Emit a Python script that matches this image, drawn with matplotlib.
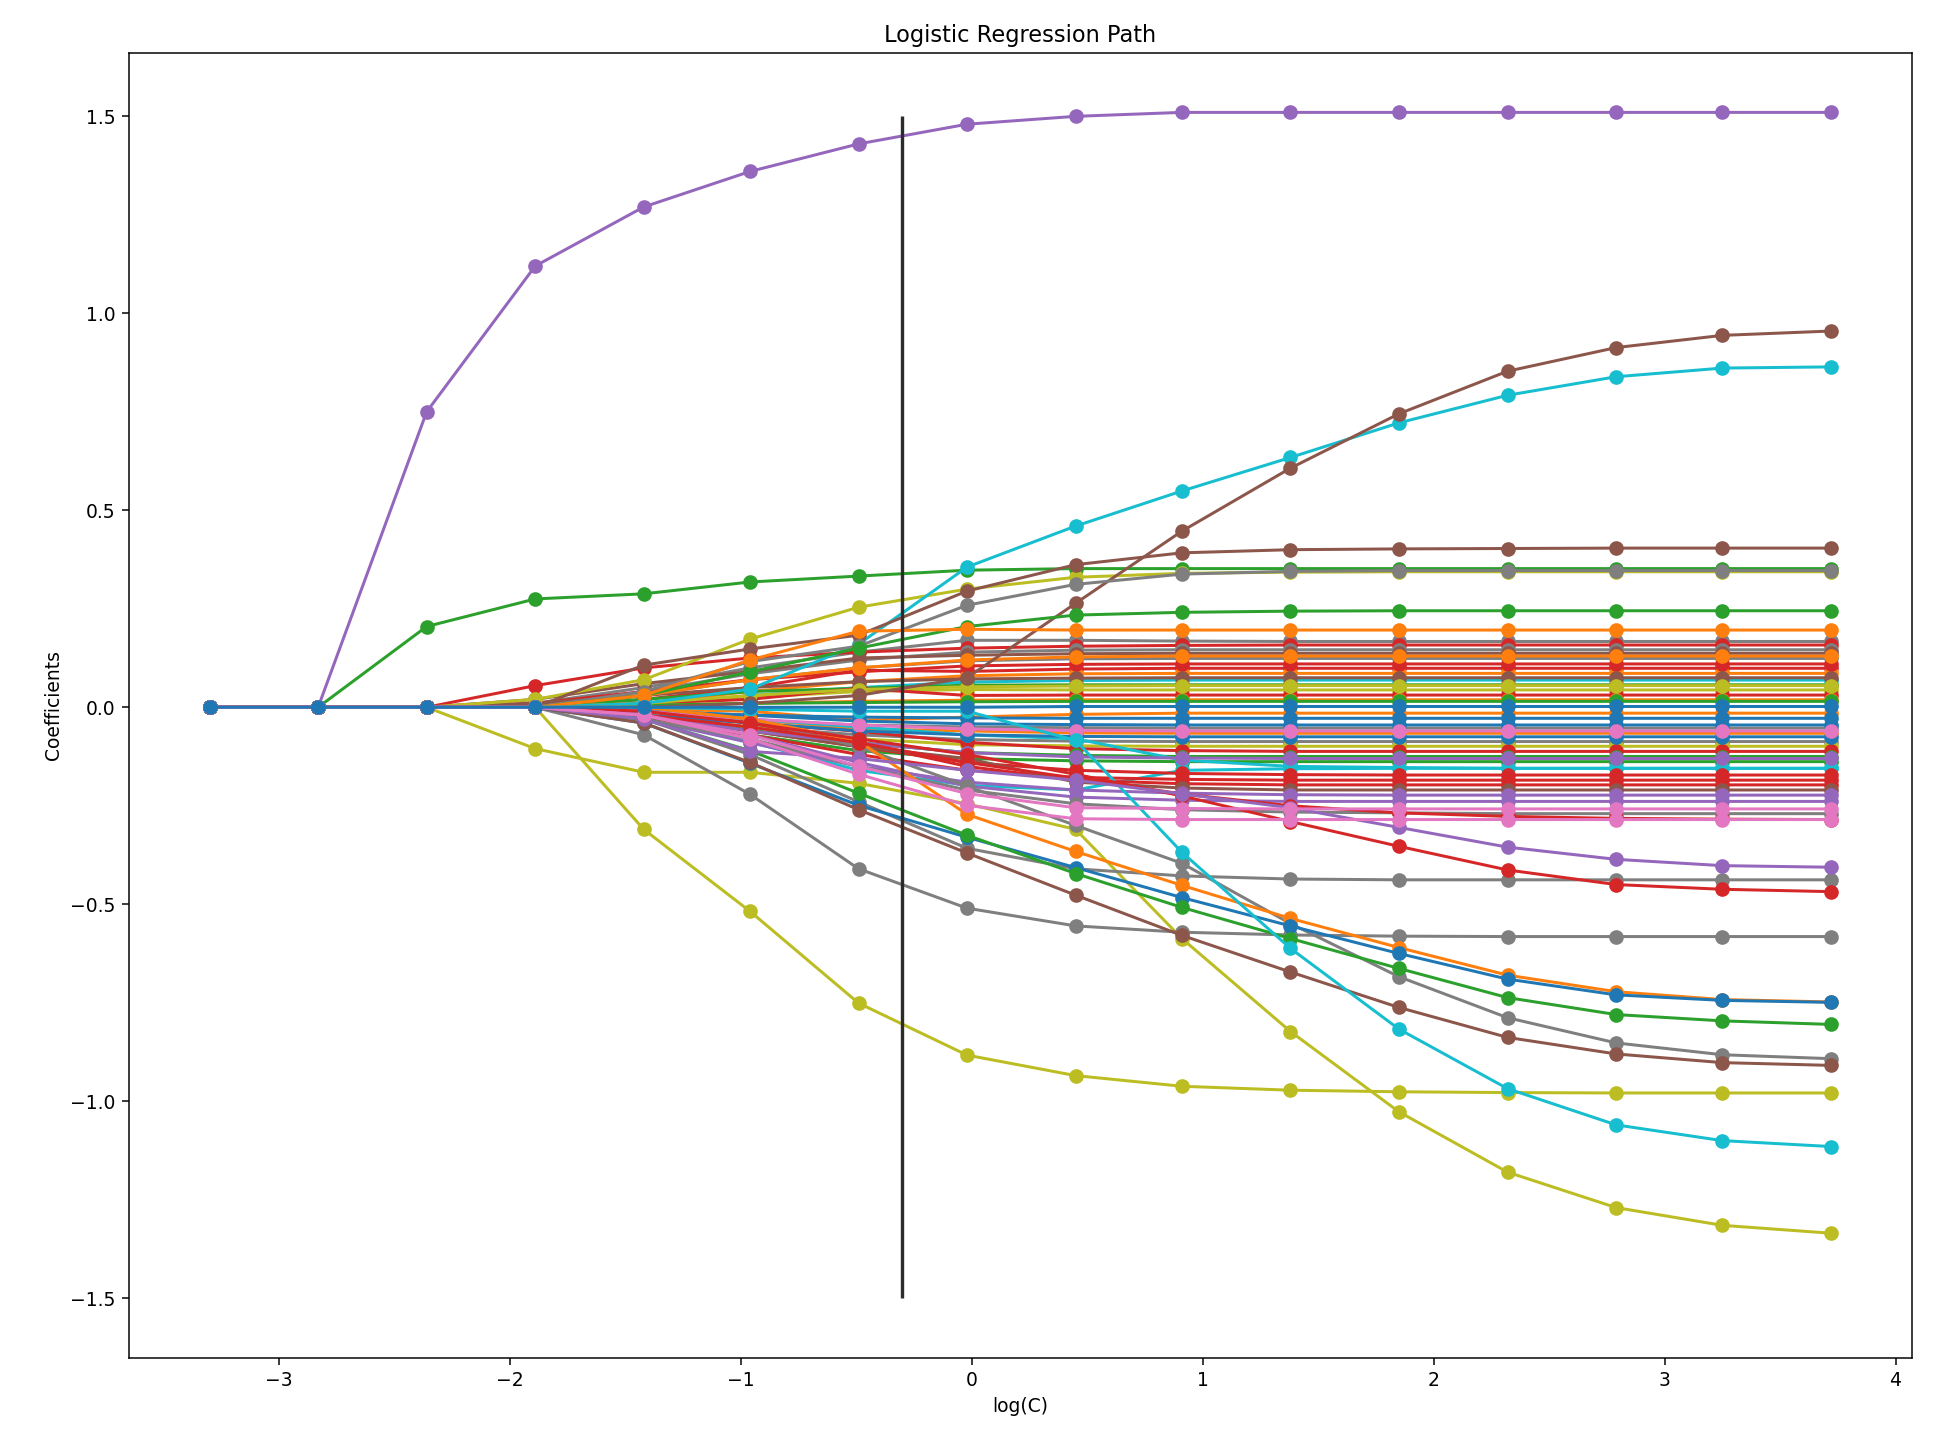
"""Logistic regression regularisation path (coefficients vs log(C))."""

import matplotlib
matplotlib.use("Agg")
import matplotlib.pyplot as plt


# x positions: log(C) for each fitted model
log_c = [-3.30, -2.83, -2.36, -1.89, -1.42, -0.96, -0.49, -0.02,
         0.45, 0.91, 1.38, 1.85, 2.32, 2.79, 3.25, 3.72]

# chosen C (vertical marker)
best_log_c = -0.30

# coefficient paths, one row per feature (16 values each)
cluster_paths = [
    [0, 0, 0, 0.01, 0.05, 0.10, 0.14, 0.17, 0.170, 0.168, 0.167, 0.167, 0.167, 0.167, 0.167, 0.167],
    [0, 0, 0, 0.055, 0.10, 0.125, 0.14, 0.15, 0.155, 0.157, 0.158, 0.158, 0.158, 0.158, 0.158, 0.158],
    [0, 0, 0, 0, 0.04, 0.085, 0.12, 0.14, 0.145, 0.146, 0.146, 0.146, 0.146, 0.146, 0.146, 0.146],
    [0, 0, 0, 0.02, 0.06, 0.091, 0.125, 0.132, 0.136, 0.137, 0.137, 0.137, 0.137, 0.137, 0.137, 0.137],
    [0, 0, 0, 0, 0.03, 0.07, 0.10, 0.118, 0.123, 0.124, 0.124, 0.124, 0.124, 0.124, 0.124, 0.124],
    [0, 0, 0, 0, 0.02, 0.05, 0.094, 0.091, 0.097, 0.099, 0.099, 0.099, 0.099, 0.099, 0.099, 0.099],
    [0, 0, 0, 0, 0.01, 0.04, 0.065, 0.080, 0.085, 0.086, 0.086, 0.086, 0.086, 0.086, 0.086, 0.086],
    [0, 0, 0, 0, 0.005, 0.03, 0.05, 0.064, 0.068, 0.069, 0.069, 0.069, 0.069, 0.069, 0.069, 0.069],
    [0, 0, 0, 0, 0.02, 0.04, 0.048, 0.056, 0.057, 0.057, 0.057, 0.057, 0.057, 0.057, 0.057, 0.057],
    [0, 0, 0, 0, 0.01, 0.025, 0.04, 0.045, 0.044, 0.044, 0.044, 0.044, 0.044, 0.044, 0.044, 0.044],
    [0, 0, 0, 0, 0.01, 0.02, 0.048, 0.030, 0.031, 0.031, 0.031, 0.031, 0.031, 0.031, 0.031, 0.031],
    [0, 0, 0, 0, 0.005, 0.01, 0.015, 0.018, 0.019, 0.019, 0.019, 0.019, 0.019, 0.019, 0.019, 0.019],
    [0, 0, 0, 0, -0.005, -0.01, -0.033, -0.025, -0.018, -0.015, -0.015, -0.015, -0.015, -0.015, -0.015, -0.015],
    [0, 0, 0, 0, -0.01, -0.02, -0.025, -0.027, -0.028, -0.028, -0.028, -0.028, -0.028, -0.028, -0.028, -0.028],
    [0, 0, 0, 0, -0.02, -0.034, -0.045, -0.050, -0.052, -0.053, -0.053, -0.053, -0.053, -0.053, -0.053, -0.053],
    [0, 0, 0, 0, -0.01, -0.03, -0.055, -0.060, -0.065, -0.066, -0.066, -0.066, -0.066, -0.066, -0.066, -0.066],
    [0, 0, 0, 0, -0.03, -0.05, -0.07, -0.082, -0.086, -0.087, -0.087, -0.087, -0.087, -0.087, -0.087, -0.087],
    [0, 0, 0, 0, -0.02, -0.05, -0.08, -0.095, -0.098, -0.099, -0.099, -0.099, -0.099, -0.099, -0.099, -0.099],
    [0, 0, 0, 0, -0.01, -0.04, -0.061, -0.089, -0.105, -0.110, -0.112, -0.112, -0.112, -0.112, -0.112, -0.112],
    [0, 0, 0, 0, -0.02, -0.058, -0.09, -0.115, -0.122, -0.125, -0.125, -0.125, -0.125, -0.125, -0.125, -0.125],
    [0, 0, 0, 0, -0.03, -0.07, -0.11, -0.130, -0.136, -0.138, -0.138, -0.138, -0.138, -0.138, -0.138, -0.138],
    [0, 0, 0, 0, -0.02, -0.088, -0.16, -0.198, -0.210, -0.160, -0.156, -0.155, -0.155, -0.155, -0.155, -0.155],
    [0, 0, 0, 0, -0.01, -0.03, -0.05, -0.07, -0.080, -0.134, -0.150, -0.153, -0.155, -0.155, -0.155, -0.155],
    [0, 0, 0, 0, -0.02, -0.06, -0.10, -0.14, -0.160, -0.168, -0.171, -0.172, -0.172, -0.172, -0.172, -0.172],
    [0, 0, 0, 0, -0.03, -0.07, -0.12, -0.16, -0.178, -0.183, -0.185, -0.185, -0.185, -0.185, -0.185, -0.185],
    [0, 0, 0, 0, -0.01, -0.04, -0.09, -0.15, -0.185, -0.194, -0.197, -0.197, -0.197, -0.197, -0.197, -0.197],
    [0, 0, 0, 0, -0.02, -0.06, -0.10, -0.13, -0.190, -0.205, -0.210, -0.210, -0.210, -0.210, -0.210, -0.210],
    [0, 0, 0, 0, -0.03, -0.09, -0.15, -0.19, -0.210, -0.218, -0.222, -0.223, -0.223, -0.223, -0.223, -0.223],
    [0, 0, 0, 0, -0.02, -0.07, -0.14, -0.20, -0.228, -0.236, -0.239, -0.239, -0.239, -0.239, -0.239, -0.239],
    [0, 0, 0, 0, -0.03, -0.08, -0.15, -0.21, -0.245, -0.260, -0.266, -0.268, -0.270, -0.270, -0.270, -0.270],
    [0, 0, 0, 0, -0.01, -0.02, -0.035, -0.042, -0.044, -0.045, -0.045, -0.045, -0.045, -0.045, -0.045, -0.045],
    [0, 0, 0, 0, -0.02, -0.04, -0.06, -0.070, -0.074, -0.075, -0.075, -0.075, -0.075, -0.075, -0.075, -0.075],
    [0, 0, 0, 0.01, 0.04, 0.07, 0.09, 0.105, 0.109, 0.110, 0.110, 0.110, 0.110, 0.110, 0.110, 0.110],
    [0, 0, 0, 0, -0.01, -0.03, -0.045, -0.055, -0.059, -0.060, -0.060, -0.060, -0.060, -0.060, -0.060, -0.060],
    [0, 0, 0, 0, 0.005, 0.01, 0.012, 0.014, 0.015, 0.015, 0.015, 0.015, 0.015, 0.015, 0.015, 0.015],
    [0, 0, 0, 0.01, 0.03, 0.05, 0.065, 0.072, 0.074, 0.075, 0.075, 0.075, 0.075, 0.075, 0.075, 0.075],
    [0, 0, 0, 0, 0.03, 0.07, 0.10, 0.120, 0.128, 0.130, 0.130, 0.130, 0.130, 0.130, 0.130, 0.130],
    [0, 0, 0, 0, -0.02, -0.06, -0.09, -0.115, -0.126, -0.129, -0.130, -0.130, -0.130, -0.130, -0.130, -0.130],
    [0, 0, 0, 0, 0.01, 0.03, 0.045, 0.052, 0.054, 0.055, 0.055, 0.055, 0.055, 0.055, 0.055, 0.055],
]
cluster_colors = ["C7", "C3", "C7", "C5", "C7", "C3", "C1", "C9", "C2", "C8",
                  "C3", "C1", "C1", "C0", "C7", "C1", "C7", "C8", "C3", "C2",
                  "C2", "C9", "C9", "C3", "C3", "C3", "C5", "C4", "C4", "C7",
                  "C0", "C0", "C3", "C6", "C2", "C5", "C1", "C4", "C8"]

main_paths = [
    [0, 0, 0.75, 1.12, 1.27, 1.36, 1.43, 1.48, 1.50, 1.51, 1.51, 1.51, 1.51, 1.51, 1.51, 1.51],
    [0, 0, 0.205, 0.275, 0.288, 0.318, 0.333, 0.348, 0.352, 0.352, 0.352, 0.352, 0.352, 0.352, 0.352, 0.352],
    [0, 0, 0, 0, -0.31, -0.518, -0.751, -0.883, -0.935, -0.962, -0.972, -0.976, -0.978, -0.979, -0.979, -0.979],
    [0, 0, 0, -0.105, -0.165, -0.165, -0.193, -0.245, -0.31, -0.587, -0.823, -1.027, -1.18, -1.27, -1.315, -1.335],
    [0, 0, 0, 0.02, 0.07, 0.173, 0.254, 0.30, 0.33, 0.34, 0.343, 0.344, 0.344, 0.344, 0.344, 0.344],
    [0, 0, 0, 0, 0.01, 0.046, 0.16, 0.356, 0.46, 0.549, 0.634, 0.722, 0.792, 0.839, 0.861, 0.864],
    [0, 0, 0, 0, 0, 0.01, 0.03, 0.075, 0.264, 0.447, 0.607, 0.745, 0.853, 0.913, 0.944, 0.955],
    [0, 0, 0, 0, 0.107, 0.148, 0.183, 0.295, 0.362, 0.392, 0.400, 0.402, 0.403, 0.404, 0.404, 0.404],
    [0, 0, 0, 0, 0.04, 0.116, 0.155, 0.259, 0.312, 0.338, 0.345, 0.347, 0.347, 0.347, 0.347, 0.347],
    [0, 0, 0, 0, 0.03, 0.09, 0.15, 0.205, 0.234, 0.241, 0.244, 0.245, 0.245, 0.245, 0.245, 0.245],
    [0, 0, 0, 0, 0.03, 0.12, 0.193, 0.198, 0.196, 0.196, 0.196, 0.196, 0.196, 0.196, 0.196, 0.196],
    [0, 0, 0, 0, -0.07, -0.221, -0.41, -0.51, -0.555, -0.571, -0.578, -0.581, -0.582, -0.582, -0.582, -0.582],
    [0, 0, 0, 0, -0.03, -0.12, -0.24, -0.358, -0.41, -0.428, -0.436, -0.438, -0.438, -0.438, -0.438, -0.438],
    [0, 0, 0, 0, 0, -0.03, -0.10, -0.20, -0.30, -0.396, -0.549, -0.684, -0.788, -0.852, -0.882, -0.892],
    [0, 0, 0, 0, 0, -0.03, -0.086, -0.272, -0.366, -0.452, -0.536, -0.61, -0.68, -0.722, -0.742, -0.748],
    [0, 0, 0, 0, -0.04, -0.142, -0.249, -0.33, -0.407, -0.483, -0.555, -0.625, -0.69, -0.73, -0.744, -0.749],
    [0, 0, 0, 0, -0.03, -0.11, -0.218, -0.325, -0.422, -0.508, -0.587, -0.663, -0.737, -0.78, -0.796, -0.805],
    [0, 0, 0, 0, -0.04, -0.14, -0.26, -0.37, -0.477, -0.579, -0.672, -0.762, -0.838, -0.88, -0.902, -0.909],
    [0, 0, 0, 0, 0, -0.005, -0.01, -0.01, -0.084, -0.368, -0.612, -0.817, -0.968, -1.06, -1.1, -1.115],
    [0, 0, 0, 0, -0.01, -0.04, -0.08, -0.12, -0.17, -0.225, -0.29, -0.353, -0.413, -0.45, -0.462, -0.468],
    [0, 0, 0, 0, -0.02, -0.05, -0.09, -0.14, -0.18, -0.22, -0.25, -0.268, -0.277, -0.282, -0.284, -0.285],
    [0, 0, 0, 0, -0.03, -0.112, -0.13, -0.16, -0.185, -0.22, -0.255, -0.305, -0.355, -0.386, -0.402, -0.406],
    [0, 0, 0, 0, -0.02, -0.07, -0.15, -0.219, -0.255, -0.257, -0.258, -0.258, -0.258, -0.258, -0.258, -0.258],
    [0, 0, 0, 0, -0.02, -0.08, -0.17, -0.249, -0.283, -0.285, -0.285, -0.285, -0.285, -0.285, -0.285, -0.285],
    [0, 0, 0, 0, 0, 0, 0, 0, 0.002, 0.002, 0.002, 0.002, 0.002, 0.002, 0.002, 0.002],
]
main_colors = ["C4", "C2", "C8", "C8", "C8", "C9", "C5", "C5", "C7", "C2",
               "C1", "C7", "C7", "C7", "C1", "C0", "C2", "C5", "C9", "C3",
               "C3", "C4", "C6", "C6", "C0"]


fig = plt.figure(figsize=(1947 / 135, 1435 / 135), dpi=135)
for coefs, color in zip(cluster_paths + main_paths, cluster_colors + main_colors):
    plt.plot(log_c, coefs, marker="o", markersize=6.8, linewidth=1.6, color=color)
plt.vlines(best_log_c, -1.5, 1.5, color="#2b2b2b", linewidth=1.8)
plt.xlabel("log(C)")
plt.ylabel("Coefficients")
plt.title("Logistic Regression Path")
plt.subplots_adjust(left=0.066, right=0.982, top=0.963, bottom=0.054)
plt.savefig("out.png", dpi=135)
plt.close()
